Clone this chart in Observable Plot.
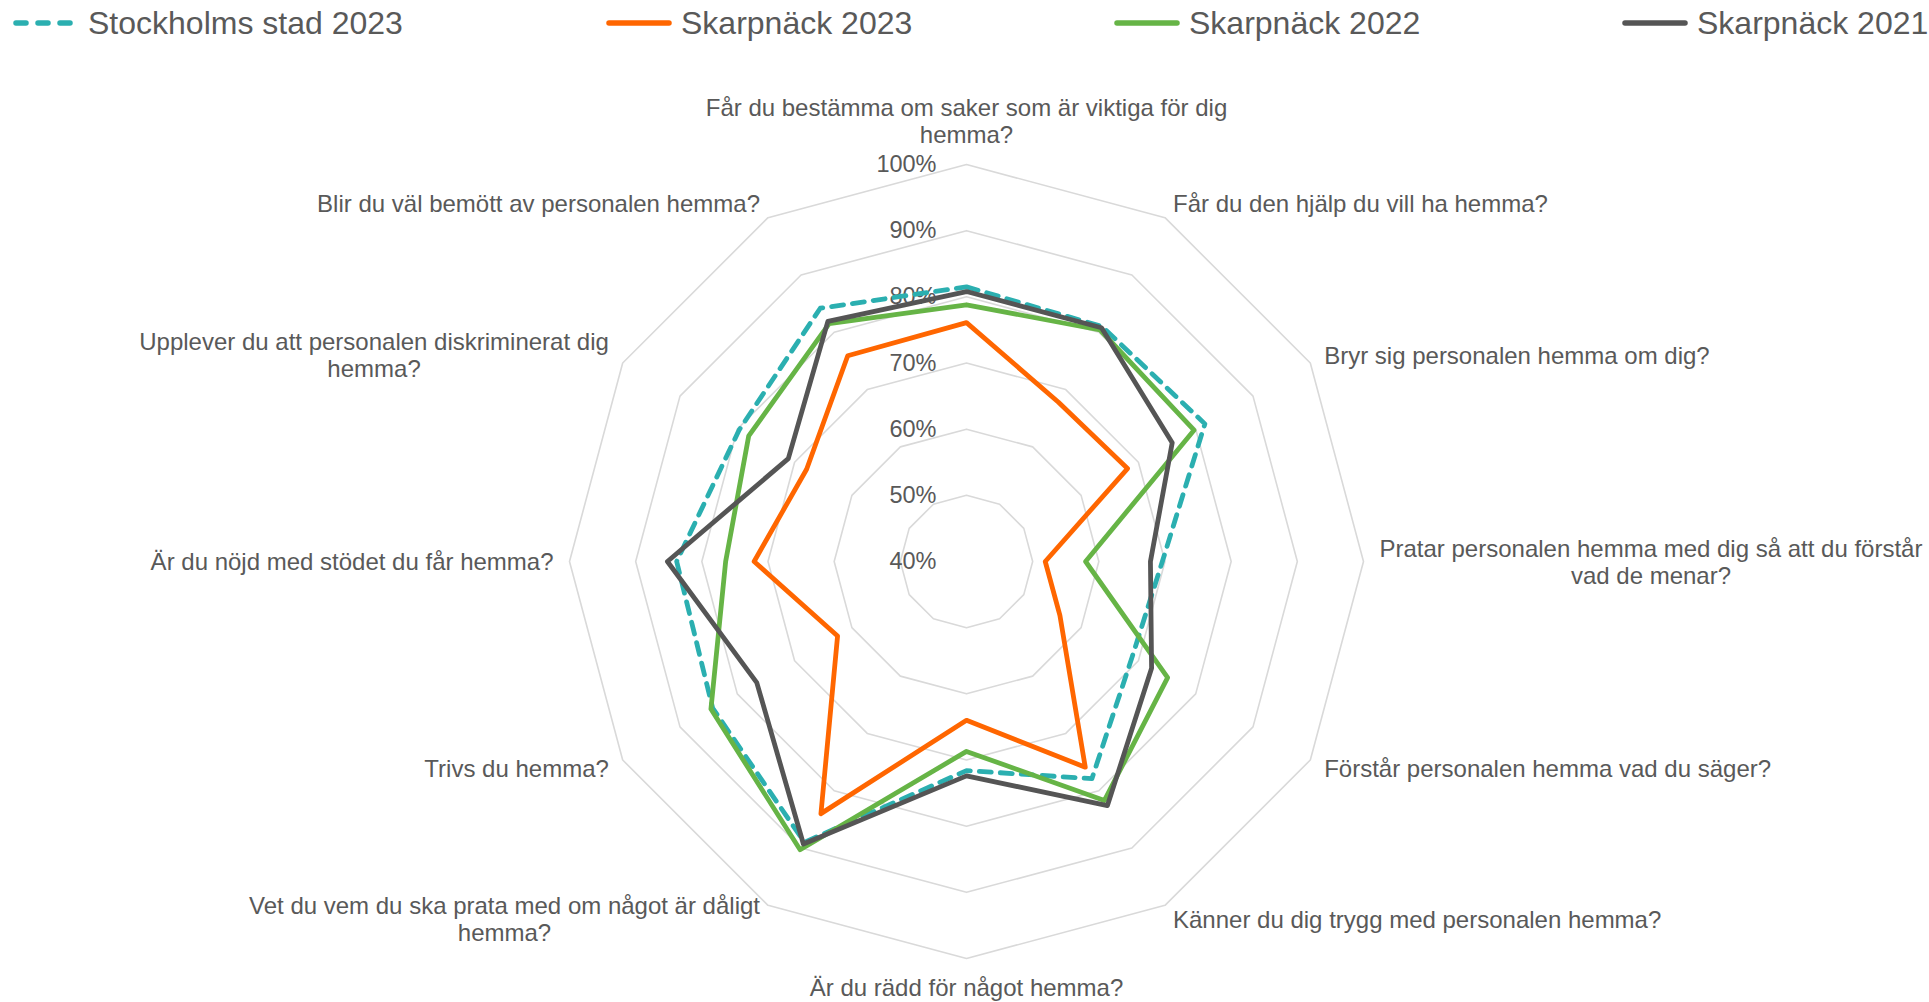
<!DOCTYPE html>
<html>
<head>
<meta charset="utf-8">
<script src="https://cdn.jsdelivr.net/npm/d3@7"></script>
<script src="https://cdn.jsdelivr.net/npm/@observablehq/plot@0.6"></script>
<style>
  body { margin: 0; background: #fff; font-family: "Liberation Sans", Arial, sans-serif; }
  #legend { position: relative; width: 1929px; height: 46px; }
  .item { position: absolute; top: 0; height: 46px; display: flex; align-items: center; }
  .item span { font-size: 32px; color: #595959; margin-left: 6px; white-space: nowrap; }
  #chart svg { display: block; }
</style>
</head>
<body>
<div id="legend"></div>
<div id="chart"></div>
<script>
// ---------- data ----------
const categories = [
  "Får du bestämma om saker som är viktiga för dig\nhemma?",
  "Får du den hjälp du vill ha hemma?",
  "Bryr sig personalen hemma om dig?",
  "Pratar personalen hemma med dig så att du förstår\nvad de menar?",
  "Förstår personalen hemma vad du säger?",
  "Känner du dig trygg med personalen hemma?",
  "Är du rädd för något hemma?",
  "Vet du vem du ska prata med om något är dåligt\nhemma?",
  "Trivs du hemma?",
  "Är du nöjd med stödet du får hemma?",
  "Upplever du att personalen diskriminerat dig\nhemma?",
  "Blir du väl bemött av personalen hemma?"
];
const seriesNames = ["Stockholms stad 2023", "Skarpnäck 2023", "Skarpnäck 2022", "Skarpnäck 2021"];
const stockholm2023 = [81.5, 81.0, 81.6, 69.6, 68.9, 77.9, 71.6, 89.0, 84.3, 83.8, 79.7, 84.2];
const skarpnack2023 = [76.1, 67.8, 68.1, 51.9, 56.3, 75.9, 64.0, 84.0, 62.5, 72.1, 67.9, 75.9];
const skarpnack2022 = [78.8, 80.4, 79.7, 58.0, 75.1, 81.7, 68.7, 90.3, 84.6, 76.4, 78.0, 81.5];
const skarpnack2021 = [80.8, 80.8, 75.9, 67.8, 72.3, 82.6, 72.4, 89.3, 76.6, 85.2, 71.1, 81.9];
const tickValues = [40, 50, 60, 70, 80, 90, 100];

// ---------- styles ----------
const seriesStyles = [
  {color: "#2BAFB0", dash: "12,9"},
  {color: "#FF6600", dash: null},
  {color: "#66B446", dash: null},
  {color: "#555555", dash: null}
];
const textColor = "#595959";
const gridColor = "#D9D9D9";
const font = '"Liberation Sans", Arial, sans-serif';

// ---------- legend ----------
const legendX = [12, 605, 1113, 1621];
const legend = document.getElementById("legend");
seriesNames.forEach((name, k) => {
  const st = seriesStyles[k];
  const div = document.createElement("div");
  div.className = "item";
  div.style.left = legendX[k] + "px";
  div.innerHTML =
    `<svg width="70" height="12"><line x1="4" y1="6" x2="64" y2="6" stroke="${st.color}" stroke-width="5.5" stroke-linecap="round" ${st.dash ? 'stroke-dasharray="10,12"' : ""}/></svg><span>${name}</span>`;
  legend.appendChild(div);
});

// ---------- chart ----------
const W = 1929, H = 956, CX = 966, CY = 515, R = 397;
const RMIN = 40, RMAX = 100;
const n = categories.length;
const ang = i => i * 2 * Math.PI / n;
const rad = v => (v - RMIN) / (RMAX - RMIN);
const polar = (v, i) => ({x: rad(v) * Math.sin(ang(i)), y: rad(v) * Math.cos(ang(i))});

const allSeries = [stockholm2023, skarpnack2023, skarpnack2022, skarpnack2021];

// rings
const rings = [];
tickValues.filter(v => v > RMIN).forEach(v => {
  for (let i = 0; i < n; i++) rings.push({ring: v, ...polar(v, i)});
});

// ticks
const ticks = tickValues.map(v => ({x: -30 / R, y: rad(v), label: v + "%"}));

// category labels
const ctx = document.createElement("canvas").getContext("2d");
ctx.font = `24px ${font}`;
const pad = 16;
const labels = categories.map((t, i) => {
  const a = ang(i), s = Math.sin(a), c = Math.cos(a);
  const w = Math.max(...t.split("\n").map(l => ctx.measureText(l).width));
  const k = 1 + pad / R;
  let x = k * s, y = k * c;
  let pos = "side";
  if (Math.abs(s) < 0.01) pos = c > 0 ? "top" : "bottom";
  else x += Math.sign(s) * (w / 2) / R;
  return {x, y, text: t, pos};
});

const marks = [
  Plot.line(rings, {x: "x", y: "y", z: "ring", curve: "linear-closed", stroke: gridColor, strokeWidth: 1.6}),
  Plot.text(ticks, {x: "x", y: "y", text: "label", textAnchor: "end", lineAnchor: "middle", fill: textColor, fontSize: 23.5}),
  Plot.text(labels.filter(d => d.pos === "side"), {x: "x", y: "y", text: "text", textAnchor: "middle", lineAnchor: "middle", lineHeight: 1.12, fill: textColor, fontSize: 24}),
  Plot.text(labels.filter(d => d.pos === "top"), {x: "x", y: "y", text: "text", textAnchor: "middle", lineAnchor: "bottom", lineHeight: 1.12, fill: textColor, fontSize: 24, dy: -6}),
  Plot.text(labels.filter(d => d.pos === "bottom"), {x: "x", y: "y", text: "text", textAnchor: "middle", lineAnchor: "top", lineHeight: 1.12, fill: textColor, fontSize: 24, dy: 2})
];
allSeries.forEach((vals, k) => {
  const st = seriesStyles[k];
  const data = vals.map((v, i) => ({series: seriesNames[k], ...polar(v, i)}));
  marks.push(Plot.line(data, {
    x: "x", y: "y", curve: "linear-closed",
    stroke: st.color, strokeWidth: 4.8, strokeLinejoin: "round",
    strokeLinecap: "round", strokeDasharray: st.dash || undefined
  }));
});

const chart = Plot.plot({
  width: W, height: H,
  margin: 0,
  style: {fontFamily: font, background: "#fff", overflow: "visible"},
  x: {domain: [-CX / R, (W - CX) / R], axis: null},
  y: {domain: [-(H - CY) / R, CY / R], axis: null},
  marks
});
document.getElementById("chart").appendChild(chart);
</script>
</body>
</html>
